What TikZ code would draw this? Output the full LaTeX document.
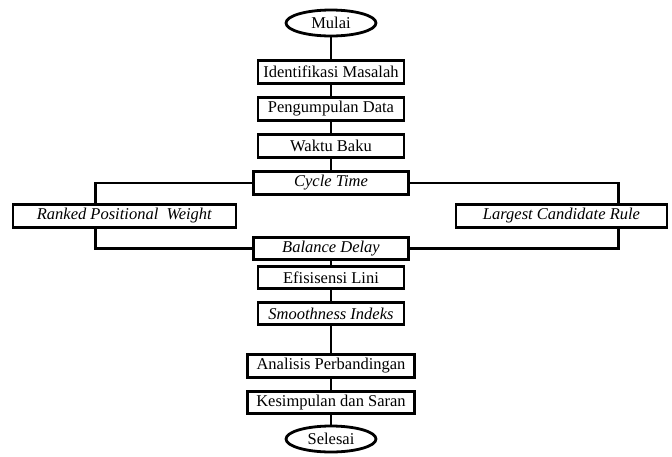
\documentclass[tikz,border=0pt]{standalone}
\usepackage{fontspec}
\setmainfont{Liberation Serif}
\usetikzlibrary{shapes.geometric}
\begin{document}
\begin{tikzpicture}[x=1pt,y=-1pt,
    proses/.style={draw, line width=2.8pt, fill=white, minimum height=22.5pt, inner sep=2pt,
        font=\fontsize{16.5}{18}\selectfont},
    terminal/.style={draw, ellipse, line width=2.8pt, fill=white, minimum width=90pt,
        minimum height=26pt, inner sep=0pt, font=\fontsize{16.5}{18}\selectfont},
    alur/.style={line width=2.8pt}]
    \useasboundingbox (0,0) rectangle (672,456);
    % jalur utama
    \node[terminal] (mulai) at (331,23) {Mulai};
    \node[proses, minimum width=146pt] (identifikasi) at (331,72) {Identifikasi Masalah};
    \node[proses, minimum width=146pt] (pengumpulan) at (331,109) {Pengumpulan Data};
    \node[proses, minimum width=146pt] (waktu) at (331,146) {Waktu Baku};
    \node[proses, minimum width=155pt] (cycle) at (331,183) {\textit{Cycle Time}};
    \node[proses, minimum width=223pt] (ranked) at (124.5,216) {\textit{Ranked Positional\ \ Weight}};
    \node[proses, minimum width=211pt] (largest) at (561.5,216) {\textit{Largest Candidate Rule}};
    \node[proses, minimum width=155pt] (balance) at (331,248.5) {\textit{Balance Delay}};
    \node[proses, minimum width=146pt] (efisiensi) at (331,277.5) {Efisisensi Lini};
    \node[proses, minimum width=146pt] (smoothness) at (331,313.5) {\textit{Smoothness Indeks}};
    \node[proses, minimum width=167pt] (analisis) at (331,366) {Analisis Perbandingan};
    \node[proses, minimum width=167pt] (kesimpulan) at (331,402.5) {Kesimpulan dan Saran};
    \node[terminal] (selesai) at (331,439) {Selesai};
    % penghubung
    \draw[alur] (mulai) -- (identifikasi);
    \draw[alur] (identifikasi) -- (pengumpulan);
    \draw[alur] (pengumpulan) -- (waktu);
    \draw[alur] (waktu) -- (cycle);
    \draw[alur] (cycle.west) -| ([xshift=84pt]ranked.north west);
    \draw[alur] ([xshift=84pt]ranked.south west) |- (balance.west);
    \draw[alur] (cycle.east) -| ([xshift=-50pt]largest.north east);
    \draw[alur] ([xshift=-50pt]largest.south east) |- (balance.east);
    \draw[alur] (balance) -- (efisiensi);
    \draw[alur] (efisiensi) -- (smoothness);
    \draw[alur] (smoothness) -- (analisis);
    \draw[alur] (analisis) -- (kesimpulan);
    \draw[alur] (kesimpulan) -- (selesai);
\end{tikzpicture}
\end{document}
